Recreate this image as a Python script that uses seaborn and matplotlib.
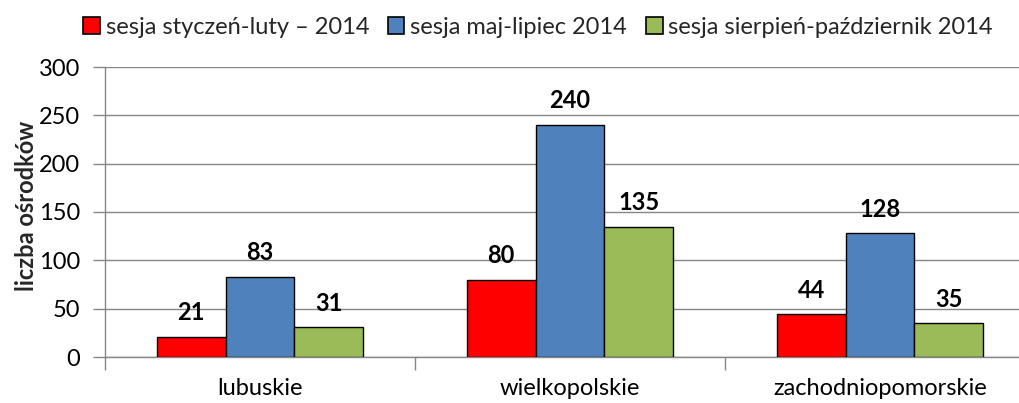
import matplotlib
matplotlib.use("Agg")
import matplotlib.pyplot as plt
import seaborn as sns
import pandas as pd

regions = ["lubuskie", "wielkopolskie", "zachodniopomorskie"]
sessions = ["sesja styczeń-luty – 2014", "sesja maj-lipiec 2014", "sesja sierpień-październik 2014"]
jan_feb = [21, 80, 44]
may_jul = [83, 240, 128]
aug_oct = [31, 135, 35]
colors = ["#FF0000", "#4F81BD", "#9BBB59"]
y_ticks = [0, 50, 100, 150, 200, 250, 300]

rows = []
for name, vals in zip(sessions, [jan_feb, may_jul, aug_oct]):
    for reg, v in zip(regions, vals):
        rows.append({"region": reg, "sesja": name, "liczba": v})
df = pd.DataFrame(rows)

sns.set_theme(style="white")
plt.rcParams["font.family"] = ["Lato", "DejaVu Sans"]
FS = 17

W, H = 1020, 403
fig = plt.figure(figsize=(W / 100, H / 100), dpi=100)
ax = fig.add_axes([105 / W, 46 / H, 930 / W, 290 / H])

sns.barplot(data=df, x="region", y="liczba", hue="sesja", hue_order=sessions,
            palette=colors, width=2 / 3, gap=0, edgecolor="black", linewidth=1.0,
            saturation=1, ax=ax, zorder=3, legend=True)

for cont in ax.containers:
    ax.bar_label(cont, padding=9, fontsize=FS, fontweight="bold", color="black")

ax.set_ylim(0, 300)
ax.set_yticks(y_ticks)
ax.set_xlim(-0.5, 2.5)
ax.yaxis.grid(True, color="#868686", linewidth=1.0, zorder=0)
ax.set_axisbelow(True)
for side in ["top", "right"]:
    ax.spines[side].set_visible(False)
for side in ["left", "bottom"]:
    ax.spines[side].set_color("#868686")
    ax.spines[side].set_linewidth(1.0)

ax.tick_params(axis="y", which="both", left=True, length=9, width=1.0, color="#868686",
               labelsize=FS, pad=9, labelcolor="black")
ax.set_xticks([0, 1, 2])
ax.set_xticklabels(regions)
ax.tick_params(axis="x", which="major", bottom=True, length=0, labelsize=FS, pad=15,
               labelcolor="black")
# category separators on the x axis
ax.set_xticks([-0.5, 0.5, 1.5, 2.5], minor=True)
ax.tick_params(axis="x", which="minor", bottom=True, length=9, width=1.0, color="#868686")

ax.set_xlabel("")
ax.set_ylabel("liczba ośrodków", fontsize=FS, fontweight="bold", va="center")
ax.yaxis.set_label_coords((27 - 105) / 930, 0.52)

handles, labels = ax.get_legend_handles_labels()
ax.get_legend().remove()
leg = fig.legend(handles, labels, loc="center", bbox_to_anchor=(538 / W, 1 - 27 / H), ncol=3,
                 frameon=False, fontsize=FS, handlelength=0.7, handleheight=0.7,
                 handletextpad=0.25, columnspacing=0.8, borderaxespad=0)
for h in leg.legend_handles:
    h.set_edgecolor("black")
    h.set_linewidth(1.2)

fig.savefig("out.png", dpi=100)
